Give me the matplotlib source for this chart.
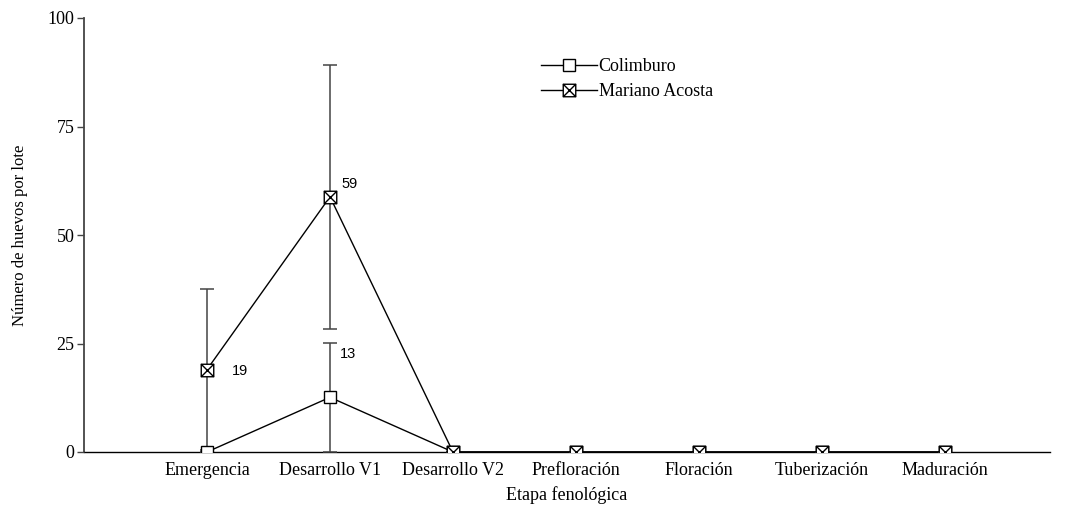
import numpy as np
import matplotlib.pyplot as plt
from matplotlib.path import Path

etapas = ['Emergencia', 'Desarrollo V1', 'Desarrollo V2', 'Prefloración',
          'Floración', 'Tuberización', 'Maduración']
colimburo = [0, 12.6, 0, 0, 0, 0, 0]
colimburo_err = [0, 12.5, 0, 0, 0, 0, 0]
mariano = [19, 58.8, 0, 0, 0, 0, 0]
mariano_err = [18.5, 30.4, 0, 0, 0, 0, 0]
# value labels: (x, y, text)
etiquetas = [(0.27, 18.7, '19'), (1.15, 22.6, '13'), (1.16, 61.8, '59')]

plt.rcParams['font.family'] = ['Liberation Serif', 'DejaVu Serif']

# square with an X inside
box_x = Path([(-1, -1), (1, -1), (1, 1), (-1, 1), (-1, -1),
              (-1, -1), (1, 1), (-1, 1), (1, -1)],
             [Path.MOVETO, Path.LINETO, Path.LINETO, Path.LINETO, Path.CLOSEPOLY,
              Path.MOVETO, Path.LINETO, Path.MOVETO, Path.LINETO])

fig = plt.figure(figsize=(10.7, 5.05), dpi=100)
ax = fig.add_axes([84 / 1070, 1 - 452 / 505, (1050 - 84) / 1070, (452 - 18) / 505])

x = np.arange(len(etapas))

ax.errorbar(x, colimburo, yerr=colimburo_err, fmt='none',
            ecolor='#444444', elinewidth=1.1, capsize=4.8, capthick=1.1, zorder=1)
ax.errorbar(x, mariano, yerr=mariano_err, fmt='none',
            ecolor='#444444', elinewidth=1.1, capsize=4.8, capthick=1.1, zorder=1)

ax.plot(x, colimburo, color='black', lw=1, marker='s', ms=9,
        mfc='white', mec='black', mew=1, label='Colimburo', zorder=3)
ax.plot(x, mariano, color='black', lw=1, marker=box_x, ms=9,
        mfc='white', mec='black', mew=1, label='Mariano Acosta', zorder=4)

for xi, yi, t in etiquetas:
    ax.text(xi, yi, t, fontsize=10.5, family=['Liberation Sans', 'DejaVu Sans'],
            ha='center', va='center')

ax.set_xlim(-1, 6.854)
ax.set_ylim(0, 100)
ax.set_yticks([0, 25, 50, 75, 100])
ax.set_xticks(x)
ax.set_xticklabels(etapas, fontsize=13)
ax.tick_params(axis='x', length=0, pad=7)
ax.tick_params(axis='y', labelsize=13, length=5, width=1, color='#444444', pad=2)
ax.spines['top'].set_visible(False)
ax.spines['right'].set_visible(False)
ax.spines['left'].set_color('#444444')
ax.spines['left'].set_linewidth(1.3)
ax.spines['bottom'].set_linewidth(1)
for s in ['left', 'bottom']:
    ax.spines[s].set_zorder(0)

ax.set_xlabel('Etapa fenológica', fontsize=13, labelpad=5)
ax.set_ylabel('Número de huevos por lote', fontsize=12, labelpad=14)

ax.legend(loc='upper left', bbox_to_anchor=(0.456, 0.945), frameon=False,
          fontsize=13, handlelength=3.1, handletextpad=0.1, labelspacing=0.45)

fig.savefig('out.png', dpi=100)
